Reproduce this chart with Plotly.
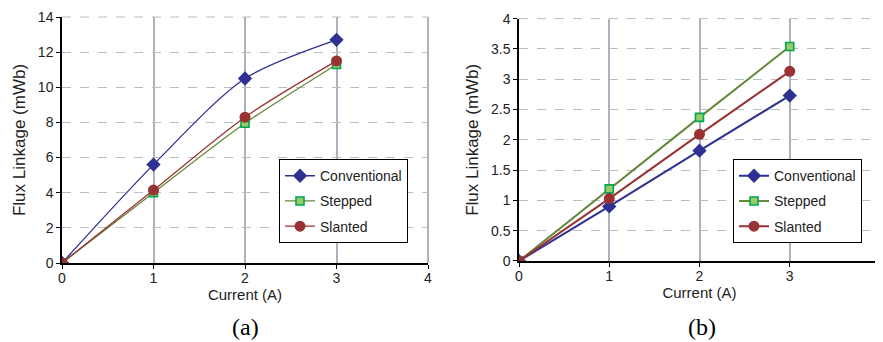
import plotly.graph_objects as go

current = [0, 1, 2, 3]
series_names = ["Conventional", "Stepped", "Slanted"]
a_conventional = [0, 5.6, 10.5, 12.7]
a_stepped = [0, 4.0, 7.95, 11.3]
a_slanted = [0, 4.15, 8.3, 11.5]
b_conventional = [0, 0.9, 1.82, 2.73]
b_stepped = [0, 1.19, 2.37, 3.54]
b_slanted = [0, 1.03, 2.09, 3.13]
a_yticks = [0, 2, 4, 6, 8, 10, 12, 14]
b_yticks = [0, 0.5, 1, 1.5, 2, 2.5, 3, 3.5, 4]
b_yticklabels = ["0", "0.5", "1", "1.5", "2", "2.5", "3", "3.5", "4"]
x_ticks = [0, 1, 2, 3, 4]

# the page body has an 8px margin, so the figure is 8px smaller and offset
OFF = 8
W, H = 883 - OFF, 342 - OFF
ML, MR, MT, MB = 62 - OFF, 3, 16.7 - OFF, 79
PW, PH = W - ML - MR, H - MT - MB
FONT = "Liberation Sans, Arial, sans-serif"
TXT = "#222222"

def px(xpage):
    return (xpage - OFF - ML) / PW

def py(ypage):
    return (H - MB - (ypage - OFF)) / PH

styles = {
    "Conventional": dict(line="#2e3192", marker=dict(symbol="diamond", size=11, color="#2e3192", line=dict(width=0))),
    "Stepped": dict(line="#66883a", marker=dict(symbol="square", size=8, color="#99cc66", line=dict(width=1.6, color="#00a651"))),
    "Slanted": dict(line="#993333", marker=dict(symbol="circle", size=11, color="#993333", line=dict(width=0))),
}

fig = go.Figure()
for name, ys in zip(series_names, [a_conventional, a_stepped, a_slanted]):
    st = styles[name]
    fig.add_trace(go.Scatter(x=current, y=ys, name=name, mode="lines+markers",
                             line=dict(color=st["line"], width=1.3, shape="spline", smoothing=0.8),
                             marker=st["marker"], xaxis="x", yaxis="y", legend="legend",
                             legendgroup="a" + name))
for name, ys in zip(series_names, [b_conventional, b_stepped, b_slanted]):
    st = styles[name]
    fig.add_trace(go.Scatter(x=current, y=ys, name=name, mode="lines+markers",
                             line=dict(color=st["line"], width=2),
                             marker=st["marker"], xaxis="x2", yaxis="y2", legend="legend2",
                             legendgroup="b" + name))

def xax(domain, anchor):
    return dict(domain=domain, anchor=anchor, range=[0, 4], tickvals=x_ticks, automargin=False,
                showgrid=True, gridcolor="#aab3bd", gridwidth=2, zeroline=False,
                showline=True, linecolor="black", linewidth=2,
                ticks="outside", ticklen=4, tickcolor="black", ticklabeloverflow="allow",
                ticklabelstandoff=-3,
                tickfont=dict(size=14, family=FONT, color=TXT),
                title=dict(text="Current (A)", font=dict(size=15, family=FONT, color=TXT), standoff=5))

def yax(domain, anchor, rng, tv, tt=None):
    d = dict(domain=domain, anchor=anchor, range=rng, tickvals=tv, automargin=False,
             showgrid=True, gridcolor="#b8bec4", gridwidth=1, griddash="dash", zeroline=False,
             showline=True, linecolor="black", linewidth=1.5,
             ticks="outside", ticklen=4, tickcolor="black", ticklabeloverflow="allow",
             tickfont=dict(size=14, family=FONT, color=TXT),
             title=dict(text="Flux Linkage (mWb)", font=dict(size=17, family=FONT, color=TXT), standoff=8))
    if tt:
        d["ticktext"] = tt
    return d

leg = dict(xanchor="left", yanchor="top", bgcolor="white", bordercolor="black", borderwidth=1,
           font=dict(size=14, family=FONT, color=TXT), tracegroupgap=4, itemwidth=30)

shapes = []
for xr, yr in [("x domain", "y domain"), ("x2 domain", "y2 domain")]:
    shapes.append(dict(type="line", xref=xr, yref=yr, x0=1, x1=1, y0=0, y1=1,
                       line=dict(color="#aab3bd", width=2), layer="below"))
    shapes.append(dict(type="line", xref=xr, yref=yr, x0=0, x1=1, y0=1, y1=1,
                       line=dict(color="#b8bec4", width=1, dash="dash"), layer="below"))

caption_font = dict(size=24, family="Liberation Serif, Times New Roman, serif", color="black")
fig.update_layout(
    width=W, height=H, margin=dict(l=ML, r=MR, t=MT, b=MB, autoexpand=False),
    paper_bgcolor="white", plot_bgcolor="white",
    xaxis=xax([px(62), px(428)], "y"),
    yaxis=yax([py(263), py(16.7)], "x", [0, 14], a_yticks),
    xaxis2=xax([px(519), px(880)], "y2"),
    yaxis2=yax([py(261), py(18.3)], "x2", [0, 4], b_yticks, b_yticklabels),
    legend=dict(x=px(279), y=py(159), **leg),
    legend2=dict(x=px(733), y=py(159), **leg),
    shapes=shapes,
    annotations=[
        dict(text="(a)", x=px(245), y=py(327), xref="paper", yref="paper", showarrow=False,
             yanchor="middle", xanchor="center", font=caption_font),
        dict(text="(b)", x=px(702), y=py(327), xref="paper", yref="paper", showarrow=False,
             yanchor="middle", xanchor="center", font=caption_font),
        # last x tick label of panel (b), which plotly drops at the page edge
        dict(text=str(x_ticks[-1]), x=x_ticks[-1], y=0, xref="x2", yref="y2", showarrow=False,
             xanchor="center", yanchor="top", yshift=-6,
             font=dict(size=14, family=FONT, color=TXT)),
    ],
)

fig.write_html("out.html")
